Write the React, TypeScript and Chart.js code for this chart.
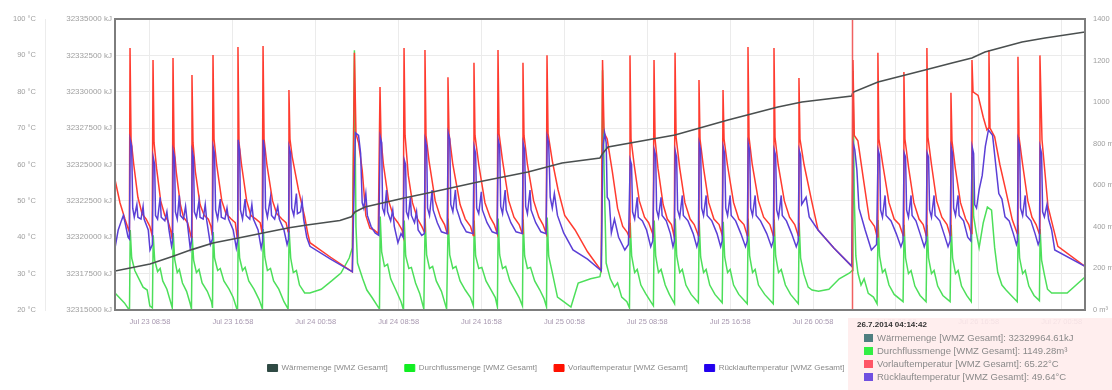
import React, { useEffect, useRef } from 'react';
import { Chart, registerables } from 'chart.js';

Chart.register(...registerables);

// ---- axes / ticks ----
const xMin = 5.59;
const xMax = 99.22;
const xTickHours = [8.967, 16.967, 24.967, 32.967, 40.967, 48.967, 56.967, 64.967, 72.967, 80.967, 88.967, 96.967];
const xTickLabels = ['Jul 23 08:58', 'Jul 23 16:58', 'Jul 24 00:58', 'Jul 24 08:58', 'Jul 24 16:58', 'Jul 25 00:58', 'Jul 25 08:58', 'Jul 25 16:58', 'Jul 26 00:58', 'Jul 26 08:58', 'Jul 26 16:58', 'Jul 27 00:58'];

const seriesNames = ['Wärmemenge [WMZ Gesamt]', 'Durchflussmenge [WMZ Gesamt]', 'Vorlauftemperatur [WMZ Gesamt]', 'Rücklauftemperatur [WMZ Gesamt]'];
const lineColors = ['#4a4f4f', '#4ddf5a', '#ff3b2f', '#5b3fd6'];
const legendColors = ['#2f4a44', '#11ee22', '#ff1100', '#2200ee'];
const tipColors = ['#4f7f80', '#33ee44', '#ff5566', '#7050e0'];

// ---- tooltip (hover state in the reference) ----
const crossHour = 76.7;
const tooltipTitle = '26.7.2014 04:14:42';
const tooltipLines = [
  'Wärmemenge [WMZ Gesamt]: 32329964.61kJ',
  'Durchflussmenge [WMZ Gesamt]: 1149.28m³',
  'Vorlauftemperatur [WMZ Gesamt]: 65.22°C',
  'Rücklauftemperatur [WMZ Gesamt]: 49.64°C',
];

// ---- data: [hour since Jul 23 00:00, value] ----
const waermemenge: [number, number][] = [
  [5.59, 32317680], [8.97, 32318162], [11.2, 32318700], [13.0, 32319150], [15.05, 32319605], [17.5, 32319950],
  [19.87, 32320292], [22.4, 32320650], [24.12, 32320842], [27.3, 32321150], [28.4, 32321400], [28.75, 32321735],
  [29.72, 32322079], [33.5, 32322700], [35.8, 32323041], [40.63, 32323797], [45.45, 32324485], [48.74, 32325103],
  [52.4, 32325450], [52.7, 32325800], [53.18, 32326203], [59.64, 32327027], [64.76, 32328058], [69.58, 32328952],
  [71.9, 32329296], [76.7, 32329700], [76.82, 32329964.61], [79.24, 32330670], [83.77, 32331495], [86.38, 32331976],
  [88.3, 32332320], [89.56, 32332732], [93.14, 32333419], [95.36, 32333694], [99.22, 32334107],
];

const durchfluss: [number, number][] = [
  [5.59, 82], [6.0, 60], [6.5, 34], [6.9, 5], [6.99, 0], [7.06, 385], [7.2, 250], [7.5, 190], [7.9, 150], [8.3, 110], [8.7, 96], [8.95, 20], [9.2, 10],
  [9.28, 360], [9.42, 240], [9.7, 185], [9.95, 200], [10.2, 140], [10.6, 100], [10.95, 40], [11.12, 10],
  [11.21, 370], [11.35, 245], [11.6, 180], [11.8, 195], [12.1, 130], [12.5, 90], [12.85, 30], [12.97, 5],
  [13.04, 355], [13.18, 240], [13.45, 180], [13.7, 195], [14.0, 130], [14.5, 90], [14.9, 40], [15.0, 10],
  [15.07, 375], [15.2, 250], [15.5, 190], [15.75, 200], [16.1, 140], [16.6, 100], [17.0, 60], [17.35, 5], [17.42, 0],
  [17.48, 385], [17.62, 250], [17.9, 190], [18.15, 205], [18.5, 140], [19.0, 100], [19.5, 50], [19.82, 5],
  [19.9, 390], [20.05, 255], [20.3, 190], [20.6, 200], [20.9, 140], [21.4, 100], [21.9, 40], [22.3, 5],
  [22.4, 380], [22.55, 250], [22.8, 180], [23.1, 190], [23.4, 120], [23.9, 82], [24.4, 82], [25.5, 100], [26.5, 140], [27.4, 178], [28.2, 250], [28.5, 300],
  [28.7, 1250], [28.85, 400], [29.0, 226], [29.5, 150], [29.9, 96], [30.4, 60], [31.0, 14], [31.12, 5],
  [31.19, 450], [31.33, 280], [31.6, 210], [31.9, 220], [32.2, 150], [32.7, 96], [33.2, 40], [33.44, 0],
  [33.51, 430], [33.65, 260], [33.95, 200], [34.2, 205], [34.6, 130], [35.0, 80], [35.4, 5],
  [35.53, 440], [35.67, 265], [35.95, 200], [36.25, 210], [36.6, 140], [37.1, 90], [37.6, 5],
  [37.75, 440], [37.9, 265], [38.2, 200], [38.5, 210], [38.9, 140], [39.4, 96], [39.9, 60], [40.18, 20],
  [40.26, 430], [40.4, 260], [40.7, 200], [41.0, 205], [41.4, 140], [41.9, 96], [42.3, 60], [42.5, 15],
  [42.58, 440], [42.72, 265], [43.0, 200], [43.3, 210], [43.7, 140], [44.2, 96], [44.6, 60], [44.92, 20],
  [44.99, 435], [45.13, 260], [45.4, 200], [45.7, 205], [46.1, 140], [46.6, 96], [47.0, 55], [47.24, 15],
  [47.31, 445], [47.45, 260], [47.8, 180], [48.3, 62], [48.9, 40], [49.6, 14], [50.3, 130], [51.5, 150], [52.4, 160], [52.55, 200],
  [52.65, 1154], [52.8, 673], [53.0, 226], [53.4, 150], [53.8, 110], [54.1, 130], [54.5, 62], [55.0, 40], [55.25, 10],
  [55.32, 420], [55.46, 260], [55.75, 180], [56.0, 195], [56.35, 120], [56.8, 80], [57.3, 40], [57.56, 20],
  [57.64, 430], [57.78, 260], [58.05, 180], [58.3, 195], [58.7, 120], [59.1, 75], [59.6, 30],
  [59.67, 440], [59.81, 260], [60.1, 180], [60.35, 195], [60.7, 120], [61.2, 75], [61.9, 35],
  [61.98, 430], [62.12, 255], [62.4, 180], [62.65, 195], [63.0, 120], [63.5, 75], [64.2, 35],
  [64.3, 425], [64.44, 255], [64.72, 180], [64.97, 195], [65.3, 120], [65.8, 75], [66.62, 30],
  [66.71, 440], [66.85, 260], [67.13, 180], [67.38, 195], [67.7, 120], [68.3, 75], [69.13, 30],
  [69.22, 435], [69.36, 260], [69.64, 180], [69.9, 195], [70.3, 120], [70.8, 75], [71.55, 30],
  [71.63, 420], [71.77, 250], [72.1, 170], [72.5, 110], [72.87, 96], [73.5, 90], [74.5, 100], [75.5, 150], [76.5, 178], [76.75, 190],
  [76.82, 1149.28], [76.95, 543], [77.1, 260], [77.3, 178], [77.6, 120], [77.9, 150], [78.3, 80], [78.8, 62], [79.15, 30],
  [79.25, 433], [79.39, 260], [79.67, 180], [79.92, 195], [80.3, 120], [80.8, 75], [81.66, 40],
  [81.76, 410], [81.9, 250], [82.18, 175], [82.43, 190], [82.8, 115], [83.3, 70], [83.88, 40],
  [83.98, 410], [84.12, 250], [84.4, 175], [84.65, 190], [85.0, 115], [85.5, 70], [86.2, 40],
  [86.3, 410], [86.44, 250], [86.72, 175], [86.97, 190], [87.3, 115], [87.8, 70], [88.24, 40],
  [88.33, 736], [88.47, 450], [88.7, 380], [89.0, 300], [89.4, 420], [89.8, 495], [90.2, 480], [90.5, 300], [90.8, 180], [91.2, 120], [91.6, 96], [92.1, 70], [92.68, 40],
  [92.77, 410], [92.91, 250], [93.2, 175], [93.45, 190], [93.8, 115], [94.3, 70], [94.82, 45],
  [94.89, 390], [95.03, 240], [95.3, 170], [95.6, 100], [96.0, 82], [97.5, 82], [99.22, 159],
];

const vorlauf: [number, number][] = [
  [5.59, 55.8], [6.07, 49.5], [6.55, 45], [6.85, 42.5], [6.98, 41.5],
  [7.04, 92], [7.14, 67], [7.4, 60], [7.8, 51], [8.2, 46.5], [8.6, 45], [8.95, 43], [9.18, 40.5],
  [9.26, 88.7], [9.36, 66], [9.6, 59], [10.0, 50], [10.4, 46], [10.7, 44.5], [10.95, 42], [11.12, 39.5],
  [11.19, 89.3], [11.29, 65], [11.5, 58], [11.9, 49], [12.2, 45.5], [12.6, 44], [12.95, 40],
  [13.02, 84.6], [13.12, 66], [13.35, 58], [13.8, 49], [14.2, 46], [14.6, 45], [14.85, 43], [14.98, 40.5],
  [15.05, 90.1], [15.15, 67], [15.4, 60], [15.9, 50], [16.3, 46.5], [16.8, 45], [17.2, 44], [17.38, 40],
  [17.46, 92.3], [17.56, 66], [17.8, 60], [18.3, 50], [18.7, 46], [19.2, 45], [19.6, 44], [19.8, 41],
  [19.88, 92.6], [19.98, 67], [20.25, 60], [20.8, 50], [21.2, 46.5], [21.7, 45], [22.1, 44], [22.3, 41.5],
  [22.38, 80.5], [22.48, 67], [22.7, 62], [23.3, 53], [23.9, 45.6], [24.2, 41], [24.41, 38.5], [26.4, 34.5], [28.5, 30.5],
  [28.7, 90.7], [28.85, 68.5], [29.1, 66], [29.45, 58.5], [29.8, 46], [30.2, 42.5], [30.6, 42], [31.0, 41],
  [31.17, 81.3], [31.27, 67], [31.5, 60], [32.0, 50], [32.5, 45.5], [32.9, 44], [33.3, 42], [33.42, 40.5],
  [33.49, 92], [33.59, 68], [33.9, 57], [34.3, 49.5], [34.8, 45], [35.2, 43], [35.44, 41.5],
  [35.51, 91.5], [35.61, 68], [35.9, 61], [36.5, 50], [37.0, 45.5], [37.4, 43.5], [37.66, 41],
  [37.73, 84], [37.83, 68.5], [38.2, 60], [38.9, 49], [39.4, 45], [39.9, 43], [40.17, 40.5],
  [40.24, 88], [40.34, 68], [40.7, 60], [41.3, 49.5], [41.8, 45.5], [42.2, 43.5], [42.49, 41],
  [42.56, 91.5], [42.66, 68.5], [43.0, 61], [43.6, 50], [44.1, 45.5], [44.6, 43.5], [44.9, 41],
  [44.97, 88], [45.07, 68], [45.4, 60], [46.0, 50], [46.5, 45.5], [46.9, 43.5], [47.22, 41],
  [47.29, 90], [47.39, 68.5], [47.8, 61], [48.36, 53], [49.0, 46], [50.0, 42], [51.2, 36], [52.52, 30.8],
  [52.65, 88.7], [52.8, 68.7], [53.1, 67], [53.6, 58], [54.1, 48], [54.6, 43], [55.0, 41.5], [55.24, 40],
  [55.3, 90], [55.4, 67], [55.7, 60], [56.2, 50], [56.7, 45.5], [57.1, 44], [57.55, 40.5],
  [57.62, 88.7], [57.72, 67], [58.0, 59], [58.5, 49], [58.9, 45], [59.3, 43.5], [59.58, 40],
  [59.65, 90.7], [59.75, 67.5], [60.1, 59], [60.6, 49.5], [61.1, 45], [61.5, 43.5], [61.9, 40.5],
  [61.96, 83.2], [62.06, 67], [62.4, 59], [62.9, 49.5], [63.4, 45], [63.9, 43.5], [64.21, 40.5],
  [64.28, 80.5], [64.38, 67], [64.7, 60], [65.3, 49.5], [65.8, 45], [66.3, 43.5], [66.62, 40.5],
  [66.69, 92.3], [66.79, 67.5], [67.1, 60], [67.7, 50], [68.2, 45.5], [68.8, 43.5], [69.13, 40.5],
  [69.2, 92], [69.3, 67.5], [69.6, 60], [70.2, 50], [70.7, 45.5], [71.2, 43.5], [71.54, 40.5],
  [71.61, 83.8], [71.71, 67], [72.1, 60], [72.87, 49.5], [73.45, 42], [75.0, 37], [76.72, 32],
  [76.82, 88.7], [76.95, 68], [77.3, 66.5], [77.8, 56.6], [78.4, 45], [78.9, 43], [79.16, 40.1],
  [79.23, 90.7], [79.33, 67], [79.7, 60], [80.3, 49.5], [80.8, 45], [81.3, 43.5], [81.67, 40.5],
  [81.74, 85.4], [81.84, 67], [82.2, 59], [82.7, 49.5], [83.2, 45], [83.6, 43.5], [83.89, 40.5],
  [83.96, 92], [84.06, 67.5], [84.4, 60], [84.9, 50], [85.4, 45.5], [85.9, 43.5], [86.21, 40.5],
  [86.28, 79.7], [86.38, 66.5], [86.7, 59], [87.2, 49.5], [87.7, 45], [88.0, 43.5], [88.24, 41],
  [88.31, 88.7], [88.41, 80], [88.9, 79], [89.4, 73], [89.75, 69.5], [89.88, 70],
  [89.95, 91.5], [90.05, 70], [90.5, 67.6], [91.0, 60], [91.5, 53.8], [92.2, 44.8], [92.68, 41],
  [92.75, 89.6], [92.85, 67.5], [93.2, 60], [93.7, 50], [94.1, 45.5], [94.5, 43.5], [94.8, 41],
  [94.87, 90], [95.07, 66.8], [95.65, 48.4], [96.6, 37.5], [99.22, 32],
];

const ruecklauf: [number, number][] = [
  [5.59, 37], [5.9, 42], [6.2, 44.5], [6.4, 46], [6.6, 43.5], [6.85, 40], [6.98, 39.5],
  [7.06, 66.8], [7.2, 65], [7.3, 48], [7.45, 45.5], [7.7, 49], [7.8, 45.5], [8.1, 45], [8.3, 48.5], [8.4, 45], [8.8, 42], [8.97, 36.5], [9.2, 38],
  [9.28, 62], [9.42, 60], [9.5, 46], [9.7, 45], [9.95, 51], [10.05, 45.5], [10.4, 44.5], [10.6, 47], [10.8, 42], [11.05, 37.5], [11.15, 39],
  [11.21, 63.7], [11.34, 62], [11.42, 47], [11.6, 45], [11.8, 51.5], [11.9, 46], [12.2, 45], [12.4, 48.5], [12.55, 44.5], [12.85, 37], [12.98, 39],
  [13.04, 63.7], [13.17, 62], [13.25, 47], [13.45, 45.5], [13.7, 50], [13.8, 45.5], [14.1, 45], [14.3, 49], [14.45, 44.5], [14.8, 38], [15.0, 39.5],
  [15.07, 64.8], [15.2, 63], [15.3, 47.5], [15.5, 45], [15.75, 50.5], [15.85, 45.5], [16.2, 45], [16.4, 48], [16.55, 45], [17.0, 42], [17.3, 37], [17.42, 39],
  [17.48, 66.8], [17.62, 64], [17.7, 47.5], [17.9, 45], [18.15, 50.5], [18.25, 46], [18.6, 45], [18.8, 49], [18.95, 45], [19.4, 42], [19.7, 37], [19.84, 39],
  [19.9, 66.8], [20.04, 64], [20.12, 48], [20.3, 45.5], [20.6, 51], [20.7, 46], [21.0, 45], [21.3, 48.5], [21.45, 45], [21.9, 42], [22.2, 38], [22.34, 39.5],
  [22.4, 64.8], [22.55, 63], [22.65, 48], [22.85, 46], [23.1, 52], [23.2, 46.5], [23.5, 47], [23.65, 50], [23.8, 45], [24.1, 40], [24.41, 37.5], [26.4, 34], [28.5, 30.5],
  [28.72, 60], [28.8, 68.7], [29.1, 68], [29.3, 63], [29.45, 49.5], [29.6, 48], [29.8, 52], [29.95, 46], [30.3, 43], [30.7, 41.2], [31.05, 40.5],
  [31.19, 67.6], [31.33, 66], [31.42, 48], [31.6, 46.5], [31.8, 53], [31.9, 47], [32.2, 44.5], [32.4, 47.5], [32.55, 43], [32.9, 38.5], [33.2, 41], [33.4, 40],
  [33.51, 61.3], [33.64, 60], [33.72, 47], [33.9, 45.5], [34.1, 51], [34.2, 46], [34.5, 44], [34.7, 47], [34.85, 42], [35.2, 40.5], [35.45, 41],
  [35.53, 66.8], [35.67, 65], [35.76, 48], [35.95, 46], [36.2, 53], [36.3, 47.5], [36.7, 44], [37.1, 41.5], [37.65, 41],
  [37.75, 68.7], [37.9, 67], [38.0, 49], [38.2, 47], [38.45, 53], [38.55, 48], [39.0, 44], [39.5, 41.5], [40.15, 41],
  [40.26, 64.8], [40.4, 63], [40.5, 48], [40.7, 46.5], [40.95, 52.5], [41.05, 47.5], [41.5, 44], [42.0, 41.5], [42.48, 41],
  [42.58, 66.8], [42.72, 65], [42.82, 48.5], [43.0, 46.5], [43.25, 53], [43.35, 47.5], [43.8, 44], [44.3, 41.5], [44.9, 41],
  [44.99, 65.8], [45.13, 64], [45.23, 48.5], [45.4, 46.5], [45.65, 53], [45.75, 47.5], [46.2, 44], [46.7, 41.5], [47.2, 41],
  [47.31, 67.6], [47.45, 66], [47.6, 51], [47.8, 48], [48.0, 52], [48.3, 46], [48.9, 41.2], [49.8, 36.5], [51.2, 34], [52.52, 30.8],
  [52.66, 60], [52.72, 65.4], [52.85, 68.7], [53.0, 66], [53.1, 51], [53.3, 50], [53.5, 41.2], [53.8, 45], [54.2, 40], [54.8, 36.5], [55.15, 38],
  [55.32, 61.3], [55.45, 60], [55.55, 47], [55.75, 45], [56.0, 51], [56.1, 45.5], [56.5, 44.5], [56.9, 42], [57.3, 37.4], [57.5, 39],
  [57.64, 64], [57.78, 62.5], [57.87, 47.5], [58.05, 45.5], [58.3, 51], [58.4, 46], [58.8, 44.5], [59.2, 41], [59.45, 37.4], [59.58, 39],
  [59.67, 63.7], [59.8, 62], [59.9, 47.5], [60.1, 45.5], [60.35, 51.5], [60.45, 46], [60.9, 44.5], [61.4, 41], [61.75, 37.4], [61.9, 39],
  [61.98, 65.8], [62.12, 64], [62.22, 48], [62.4, 46], [62.65, 51.5], [62.75, 46], [63.2, 44.5], [63.7, 41], [64.05, 37.4], [64.2, 39],
  [64.3, 64.8], [64.44, 63], [64.54, 48], [64.72, 46], [64.97, 51.5], [65.07, 46], [65.5, 44.5], [66.0, 41], [66.45, 37.4], [66.62, 39],
  [66.71, 65.8], [66.85, 64], [66.95, 48], [67.13, 46], [67.38, 51.5], [67.48, 46], [67.9, 44.5], [68.5, 41], [68.95, 37.4], [69.13, 39],
  [69.22, 64], [69.36, 62.5], [69.46, 47.5], [69.64, 45.5], [69.9, 51.5], [70.0, 46], [70.4, 44.5], [70.9, 41], [71.35, 37.4], [71.54, 39],
  [71.63, 64], [71.77, 62.5], [71.87, 49], [72.3, 51], [72.6, 45.6], [73.45, 42], [75.0, 37], [76.72, 32],
  [76.84, 66], [77.0, 64], [77.2, 58.5], [77.4, 48], [77.7, 45], [78.0, 42], [78.6, 36.5], [79.1, 38],
  [79.25, 64], [79.39, 62.5], [79.49, 47.5], [79.67, 45.5], [79.92, 51.5], [80.02, 46], [80.5, 44.5], [81.0, 41], [81.45, 37.4], [81.65, 39],
  [81.76, 63.2], [81.9, 62], [82.0, 47.5], [82.18, 45.5], [82.43, 51.5], [82.53, 46], [82.9, 44.5], [83.3, 41], [83.7, 37.4], [83.88, 39],
  [83.98, 63.2], [84.12, 62], [84.22, 47.5], [84.4, 45.5], [84.65, 51.5], [84.75, 46], [85.2, 44.5], [85.6, 41], [86.0, 37.4], [86.2, 39],
  [86.3, 64.8], [86.44, 63], [86.54, 48], [86.72, 46], [86.97, 51.5], [87.07, 46], [87.5, 44.5], [87.9, 40], [88.2, 39],
  [88.33, 64.8], [88.47, 63], [88.57, 49], [88.75, 48], [89.0, 53], [89.3, 57], [89.6, 65], [89.9, 69.5], [90.3, 68], [90.6, 60], [90.9, 52], [91.2, 50.5], [91.5, 45.6], [91.9, 44.5], [92.3, 41], [92.6, 38], [92.7, 39],
  [92.77, 66.8], [92.91, 65], [93.0, 48], [93.2, 46], [93.45, 51.5], [93.55, 46], [94.0, 44.5], [94.4, 41], [94.7, 38], [94.82, 39],
  [94.89, 64.8], [95.03, 63], [95.13, 47], [95.3, 45.6], [95.55, 49], [95.7, 45], [96.0, 42], [96.3, 36.5], [99.22, 32],
];

const FONT = '"Liberation Sans", Arial, sans-serif';

const toXY = (arr: [number, number][]) => arr.map(([x, y]) => ({ x, y }));

const overlayPlugin = {
  id: 'overlay',
  afterDatasetsDraw(chart: any) {
    const { ctx, chartArea: a, scales } = chart;
    ctx.save();
    const cx = Math.round(scales.x.getPixelForValue(crossHour)) + 0.5;
    ctx.strokeStyle = 'rgba(240,80,80,0.9)';
    ctx.lineWidth = 1.5;
    ctx.beginPath();
    ctx.moveTo(cx, a.top);
    ctx.lineTo(cx, a.bottom);
    ctx.stroke();
    ctx.strokeStyle = '#7d7d7d';
    ctx.lineWidth = 2;
    ctx.strokeRect(a.left, a.top, a.right - a.left, a.bottom - a.top);
    ctx.restore();
  },
  afterDraw(chart: any) {
    const { ctx, chartArea: a, scales } = chart;
    const cx = scales.x.getPixelForValue(crossHour);
    const left = Math.round(cx) - 4;
    const top = Math.round(a.bottom) + 8;
    ctx.save();
    ctx.fillStyle = 'rgba(255,236,236,0.88)';
    ctx.fillRect(left, top, chart.width - left + 10, chart.height - top + 10);
    ctx.fillStyle = '#333';
    ctx.font = `bold 8px ${FONT}`;
    ctx.textBaseline = 'middle';
    ctx.fillText(tooltipTitle, left + 9, top + 7);
    ctx.font = `9.5px ${FONT}`;
    tooltipLines.forEach((line, i) => {
      const y = top + 20 + i * 13;
      ctx.fillStyle = tipColors[i];
      ctx.fillRect(left + 16, y - 4, 9, 8);
      ctx.fillStyle = '#8a8a8a';
      ctx.fillText(line, left + 29, y);
    });
    ctx.restore();
  },
};

export default function App() {
  const canvasRef = useRef<HTMLCanvasElement | null>(null);

  useEffect(() => {
    document.body.style.margin = '0';
    const canvas = canvasRef.current;
    if (!canvas) return;
    const tickFont = { family: FONT, size: 7.5 };
    const chart = new Chart(canvas, {
      type: 'line',
      data: {
        datasets: [
          { label: seriesNames[0], data: toXY(waermemenge), yAxisID: 'yE', borderColor: lineColors[0], backgroundColor: legendColors[0], borderWidth: 1.6, pointRadius: 0, order: 0 },
          { label: seriesNames[1], data: toXY(durchfluss), yAxisID: 'yF', borderColor: lineColors[1], backgroundColor: legendColors[1], borderWidth: 1.5, pointRadius: 0, order: 3 },
          { label: seriesNames[2], data: toXY(vorlauf), yAxisID: 'yT', borderColor: lineColors[2], backgroundColor: legendColors[2], borderWidth: 1.5, pointRadius: 0, order: 2 },
          { label: seriesNames[3], data: toXY(ruecklauf), yAxisID: 'yT', borderColor: lineColors[3], backgroundColor: legendColors[3], borderWidth: 1.5, pointRadius: 0, order: 1 },
        ],
      },
      options: {
        responsive: false,
        animation: false,
        events: [],
        layout: { padding: { top: 19, left: 0, right: 0, bottom: 8 } },
        scales: {
          x: {
            type: 'linear',
            min: xMin,
            max: xMax,
            afterBuildTicks: (axis: any) => {
              axis.ticks = xTickHours.map((v) => ({ value: v }));
            },
            afterFit: (axis: any) => {
              axis.height = 37;
            },
            ticks: {
              autoSkip: false,
              maxRotation: 0,
              padding: 7,
              color: '#a898b0',
              font: tickFont,
              callback: (_v: any, i: number) => xTickLabels[i],
            },
            grid: { color: '#ebebeb', drawTicks: false },
            border: { display: false },
          },
          yT: {
            type: 'linear',
            position: 'left',
            weight: 1,
            min: 20,
            max: 100,
            afterFit: (axis: any) => {
              axis.width = 45;
            },
            ticks: { stepSize: 10, padding: 9, color: '#a0a0a0', font: tickFont, callback: (v: any) => `${v} °C` },
            grid: { color: '#ebebeb', drawTicks: false },
            border: { display: true, color: '#ececec' },
          },
          yE: {
            type: 'linear',
            position: 'left',
            weight: 0,
            min: 32315000,
            max: 32335000,
            afterFit: (axis: any) => {
              axis.width = 70;
            },
            ticks: { stepSize: 2500, padding: 3, color: '#a0a0a0', font: { family: FONT, size: 8 }, callback: (v: any) => `${v} kJ` },
            grid: { drawOnChartArea: false, drawTicks: false },
            border: { display: false },
          },
          yF: {
            type: 'linear',
            position: 'right',
            min: 0,
            max: 1400,
            afterFit: (axis: any) => {
              axis.width = 27;
            },
            ticks: { stepSize: 200, padding: 8, color: '#a0a0a0', font: tickFont, callback: (v: any) => `${v} m³` },
            grid: { drawOnChartArea: false, drawTicks: false },
            border: { display: false },
          },
        },
        plugins: {
          tooltip: { enabled: false },
          legend: {
            position: 'bottom',
            labels: {
              boxWidth: 10,
              boxHeight: 7,
              padding: 17,
              color: '#8a8a8a',
              font: { family: FONT, size: 8 },
              generateLabels: () =>
                seriesNames.map((n, i) => ({
                  text: n,
                  fillStyle: legendColors[i],
                  strokeStyle: legendColors[i],
                  lineWidth: 1,
                  hidden: false,
                  datasetIndex: i,
                  fontColor: '#8a8a8a',
                })),
            },
          },
        },
      },
      plugins: [overlayPlugin],
    } as any);
    return () => chart.destroy();
  }, []);

  return (
    <div style={{ width: 1112, height: 390, background: '#fff' }}>
      <canvas ref={canvasRef} width={1112} height={390} style={{ display: 'block' }} />
    </div>
  );
}
